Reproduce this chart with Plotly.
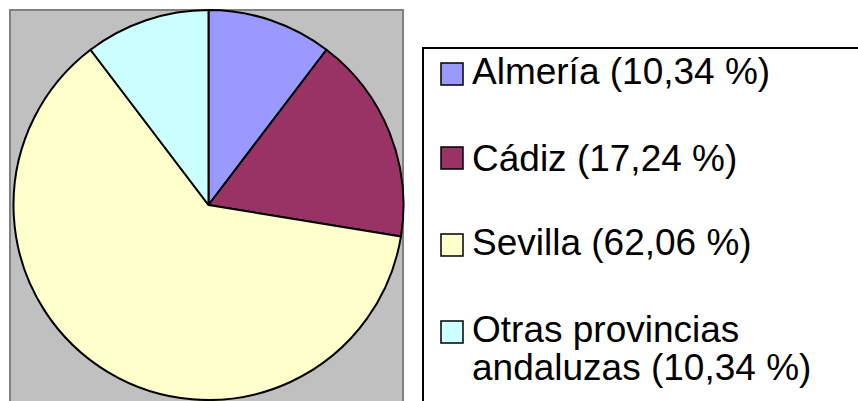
import plotly.graph_objects as go

# ---- data ----
labels = ["Almería", "Cádiz", "Sevilla", "Otras provincias andaluzas"]
values = [10.34, 17.24, 62.06, 10.34]
colors = ["#9999FF", "#993366", "#FFFFCC", "#CCFFFF"]
legend_lines = [["Almería (10,34 %)"], ["Cádiz (17,24 %)"], ["Sevilla (62,06 %)"],
                ["Otras provincias", "andaluzas (10,34 %)"]]

W, H = 858, 401


def px(x):
    return x / W


def py(y):
    return 1 - y / H


fig = go.Figure()
fig.add_trace(go.Pie(
    labels=labels,
    values=values,
    sort=False,
    direction="clockwise",
    rotation=0,
    marker=dict(colors=colors, line=dict(color="black", width=2)),
    textinfo="none",
    hovertemplate="%{label}: %{value:.2f} %<extra></extra>",
    showlegend=False,
    domain=dict(x=[px(12), px(405)], y=[py(400), py(10)]),
))

shapes = [
    # gray plot area
    dict(type="rect", xref="paper", yref="paper", x0=px(10), x1=px(403), y0=py(415), y1=py(10),
         fillcolor="#C0C0C0", line=dict(color="#808080", width=2), layer="below"),
    # legend box
    dict(type="rect", xref="paper", yref="paper", x0=px(423), x1=px(900), y0=py(430), y1=py(48),
         fillcolor="white", line=dict(color="black", width=2), layer="below"),
]
annotations = []
sq_tops = [63, 147, 234, 321]
baselines = [84, 171, 255, 342]
line_gap = 38
for i, (c, lines) in enumerate(zip(colors, legend_lines)):
    t = sq_tops[i]
    shapes.append(dict(type="rect", xref="paper", yref="paper", x0=px(441), x1=px(463),
                       y0=py(t + 22), y1=py(t), fillcolor=c,
                       line=dict(color="black", width=1.5)))
    for j, txt in enumerate(lines):
        b = baselines[i] + j * line_gap
        annotations.append(dict(
            text=txt, xref="paper", yref="paper", x=px(472), y=py(b + 7.8),
            xanchor="left", yanchor="bottom", showarrow=False,
            borderpad=0, borderwidth=0,
            font=dict(family="Liberation Sans, Arial", size=37, color="black"),
        ))

fig.update_layout(
    width=W, height=H,
    margin=dict(l=0, r=0, t=0, b=0),
    paper_bgcolor="white",
    plot_bgcolor="white",
    shapes=shapes,
    annotations=annotations,
    showlegend=False,
)

fig.write_html(
    "out.html",
    config={"displayModeBar": False},
    post_script="document.body.style.margin='0';document.body.style.overflow='hidden';",
)
